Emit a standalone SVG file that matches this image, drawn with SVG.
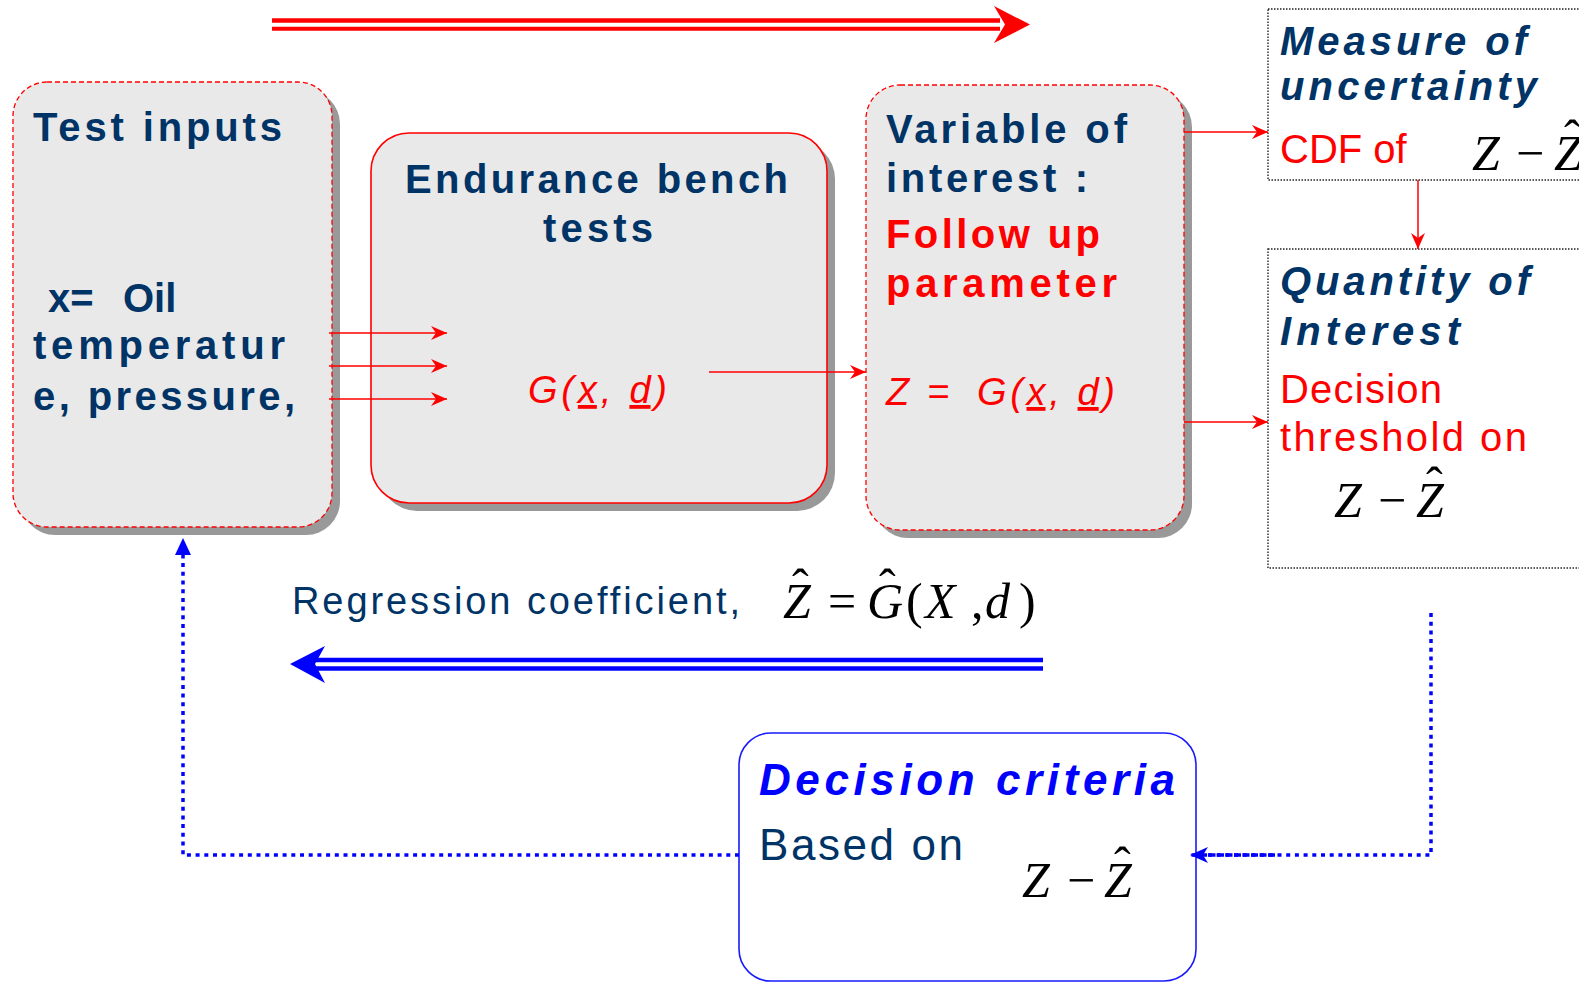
<svg xmlns="http://www.w3.org/2000/svg" width="1579" height="984" viewBox="0 0 1579 984">
<style>
.bg{fill:#ffffff}
.shadow{fill:#999999}
.box{fill:#e9e9e9}
.dashred{stroke:#ff0000;stroke-width:1.3;stroke-dasharray:5 3}
.solidred{stroke:#ff0000;stroke-width:1.6}
.dotbox{fill:#ffffff;stroke:#222222;stroke-width:1.4;stroke-dasharray:1.5 1.5}
.hb{font-family:"Liberation Sans",Arial,sans-serif;font-weight:bold;font-size:40px;fill:#003366}
.hbi{font-family:"Liberation Sans",Arial,sans-serif;font-weight:bold;font-style:italic;font-size:40px;fill:#003366}
.rb{font-family:"Liberation Sans",Arial,sans-serif;font-weight:bold;font-size:40px;fill:#ff0000}
.rr{font-family:"Liberation Sans",Arial,sans-serif;font-size:40px;fill:#ff0000}
.ri{font-family:"Liberation Sans",Arial,sans-serif;font-style:italic;font-size:38px;fill:#ff0000}
.nr{font-family:"Liberation Sans",Arial,sans-serif;font-size:38px;fill:#003366}
.m{font-family:"Liberation Serif","Times New Roman",serif;font-size:50px;fill:#000000}
.mi{font-style:italic}
.redln{stroke:#ff0000;stroke-width:1.5;fill:none}
.blueDot{stroke:#0000ff;stroke-width:3.5;stroke-dasharray:4 4.7;fill:none}
</style>
<defs>
<marker id="rh" markerWidth="16" markerHeight="14" refX="16" refY="7" orient="auto" markerUnits="userSpaceOnUse">
<path d="M0,0 L16,7 L0,14 L5,7 Z" fill="#ff0000"/>
</marker>
<marker id="bh" markerWidth="18" markerHeight="16" refX="18" refY="8" orient="auto" markerUnits="userSpaceOnUse">
<path d="M0,0 L18,8 L0,16 L5,8 Z" fill="#0000ff"/>
</marker>
</defs>
<rect class="bg" x="0" y="0" width="1579" height="984"/>

<g id="test-inputs">
<rect class="shadow" x="21" y="90" width="319" height="445" rx="34"/>
<rect class="box dashred" x="13" y="82" width="319" height="445" rx="34"/>
<text class="hb" x="33" y="141" textLength="249" lengthAdjust="spacing">Test inputs</text>
<text class="hb" y="312"><tspan x="48">x=</tspan><tspan x="123">Oil</tspan></text>
<text class="hb" x="33" y="359" textLength="252" lengthAdjust="spacing">temperatur</text>
<text class="hb" x="33" y="410" textLength="262" lengthAdjust="spacing">e, pressure,</text>
</g>

<g id="endurance">
<rect class="shadow" x="379" y="141" width="456" height="370" rx="38"/>
<rect class="box solidred" x="371" y="133" width="456" height="370" rx="38"/>
<text class="hb" x="405" y="193" textLength="383" lengthAdjust="spacing">Endurance bench</text>
<text class="hb" x="543" y="242" textLength="110" lengthAdjust="spacing">tests</text>
<text class="ri" x="528" y="403" textLength="139" lengthAdjust="spacing">G(<tspan text-decoration="underline">x</tspan>, <tspan text-decoration="underline">d</tspan>)</text>
</g>

<g id="variable">
<rect class="shadow" x="874" y="93" width="318" height="445" rx="34"/>
<rect class="box dashred" x="866" y="85" width="318" height="445" rx="34"/>
<text class="hb" x="886" y="143" textLength="241" lengthAdjust="spacing">Variable of</text>
<text class="hb" x="886" y="192" textLength="202" lengthAdjust="spacing">interest :</text>
<text class="rb" x="886" y="248" textLength="214" lengthAdjust="spacing">Follow up</text>
<text class="rb" x="886" y="297" textLength="231" lengthAdjust="spacing">parameter</text>
<text class="ri" font-size="39" y="405"><tspan x="886">Z</tspan><tspan x="927">=</tspan><tspan x="977" textLength="138" lengthAdjust="spacing">G(<tspan text-decoration="underline">x</tspan>, <tspan text-decoration="underline">d</tspan>)</tspan></text>
</g>

<g id="measure">
<rect class="dotbox" x="1268" y="9" width="340" height="171"/>
<text class="hbi" x="1280" y="55" textLength="247" lengthAdjust="spacing">Measure of</text>
<text class="hbi" x="1280" y="100" textLength="257" lengthAdjust="spacing">uncertainty</text>
<text class="rr" x="1280" y="163">CDF of</text>
<text class="m" y="170"><tspan class="mi" x="1472">Z</tspan><tspan x="1516">−</tspan><tspan class="mi" x="1554">Z</tspan><tspan x="1564" y="155">ˆ</tspan></text>
</g>

<g id="quantity">
<rect class="dotbox" x="1268" y="249" width="340" height="319"/>
<text class="hbi" x="1280" y="295" textLength="250" lengthAdjust="spacing">Quantity of</text>
<text class="hbi" x="1280" y="345" textLength="180" lengthAdjust="spacing">Interest</text>
<text class="rr" x="1280" y="403" textLength="162" lengthAdjust="spacing">Decision</text>
<text class="rr" x="1280" y="451" textLength="247" lengthAdjust="spacing">threshold on</text>
<text class="m" y="517"><tspan class="mi" x="1334">Z</tspan><tspan x="1378">−</tspan><tspan class="mi" x="1416">Z</tspan><tspan x="1426" y="502">ˆ</tspan></text>
</g>

<g id="decision">
<rect x="739" y="733" width="457" height="248" rx="32" fill="#ffffff" stroke="#1a1aff" stroke-width="1.6"/>
<text x="759" y="795" textLength="416" lengthAdjust="spacing" font-family="Liberation Sans, Arial, sans-serif" font-weight="bold" font-style="italic" font-size="44" fill="#0000ff">Decision criteria</text>
<text x="759" y="860" textLength="204" lengthAdjust="spacing" font-family="Liberation Sans, Arial, sans-serif" font-size="44" fill="#003366">Based on</text>
<text class="m" y="897"><tspan class="mi" x="1022">Z</tspan><tspan x="1067">−</tspan><tspan class="mi" x="1104">Z</tspan><tspan x="1114" y="882">ˆ</tspan></text>
</g>

<g id="regression-label">
<text class="nr" x="292" y="614" textLength="448" lengthAdjust="spacing">Regression coefficient,</text>
<text class="m" y="618" font-size="47"><tspan class="mi" x="783">Z</tspan><tspan x="792" y="604">ˆ</tspan><tspan x="828" y="618">=</tspan><tspan class="mi" x="867">G</tspan><tspan x="879" y="604">ˆ</tspan><tspan x="906" y="618">(</tspan><tspan class="mi" x="925">X</tspan><tspan x="971">,</tspan><tspan class="mi" x="985">d</tspan><tspan x="1019">)</tspan></text>
</g>

<g id="connectors">
<line x1="272" y1="20.5" x2="1000" y2="20.5" stroke="#ff0000" stroke-width="4.3"/>
<line x1="272" y1="28.7" x2="1000" y2="28.7" stroke="#ff0000" stroke-width="4"/>
<polygon points="1030,24.6 994,6 1005,24.6 994,43" fill="#ff0000"/>
<line class="redln" x1="329" y1="333" x2="447" y2="333" marker-end="url(#rh)"/>
<line class="redln" x1="329" y1="366" x2="447" y2="366" marker-end="url(#rh)"/>
<line class="redln" x1="329" y1="399" x2="447" y2="399" marker-end="url(#rh)"/>
<line class="redln" x1="709" y1="372" x2="866" y2="372" marker-end="url(#rh)"/>
<line class="redln" x1="1184" y1="132" x2="1268" y2="132" marker-end="url(#rh)"/>
<line class="redln" x1="1184" y1="422" x2="1268" y2="422" marker-end="url(#rh)"/>
<line class="redln" x1="1418" y1="180" x2="1418" y2="249" marker-end="url(#rh)"/>
<line x1="1043" y1="660" x2="316" y2="660" stroke="#0000ff" stroke-width="4.5"/>
<line x1="1043" y1="668.4" x2="316" y2="668.4" stroke="#0000ff" stroke-width="4.5"/>
<polygon points="290,664 325,646 315,664 325,683" fill="#0000ff"/>
<path class="blueDot" d="M1431,613 L1431,855 L1196,855"/>
<line x1="1275" y1="855" x2="1190" y2="855" stroke="#0000ff" stroke-width="3.5" stroke-dasharray="7 1.5" marker-end="url(#bh)"/>
<path class="blueDot" d="M739,855 L183,855 L183,553"/>
<polygon points="183,538 175,555 191,555" fill="#0000ff"/>
</g>
</svg>
